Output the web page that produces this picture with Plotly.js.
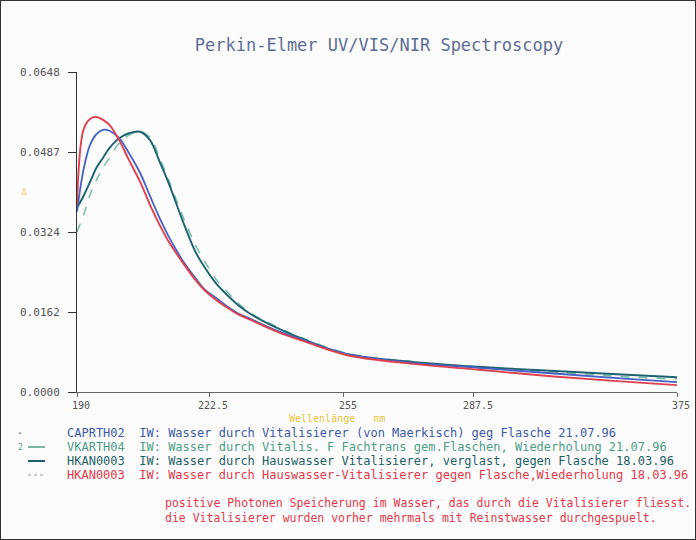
<!DOCTYPE html>
<html>
<head>
<meta charset="utf-8">
<script src="https://cdn.plot.ly/plotly-3.0.1.min.js"></script>
<style>
html,body{margin:0;padding:0;background:#fff;}
#chart{width:694px;height:538px;border:1px solid #333;background:#fcfcfc;}
</style>
</head>
<body>
<div id="chart"></div>
<script>
// Wavelength grid (nm)
var wavelength = [190, 192, 194, 196, 198, 200, 203, 206, 209.5, 212.5, 215.5, 218.5, 222.5, 226.5, 229.5, 233, 237, 240, 243.5, 251, 259, 273, 293.5, 314, 336, 356.5, 375];

// Absorbance series
var capRTH02 = [0.0365, 0.0450, 0.0500, 0.0522, 0.0531, 0.0529, 0.0514, 0.0484, 0.0443, 0.0397, 0.0352, 0.0312, 0.0267, 0.0231, 0.0207, 0.0190, 0.0170, 0.0158, 0.0148, 0.0126, 0.0107, 0.0077, 0.0059, 0.0049, 0.0038, 0.0028, 0.0020];
var vkaRTH04 = [0.0324, 0.0358, 0.0399, 0.0429, 0.0454, 0.0474, 0.0504, 0.0520, 0.0527, 0.0516, 0.0474, 0.0425, 0.0358, 0.0298, 0.0263, 0.0227, 0.0198, 0.0178, 0.0160, 0.0134, 0.0111, 0.0079, 0.0061, 0.0049, 0.0041, 0.0032, 0.0026];
var hkan0003a = [0.0373, 0.0397, 0.0425, 0.0454, 0.0474, 0.0494, 0.0514, 0.0524, 0.0527, 0.0510, 0.0466, 0.0419, 0.0348, 0.0284, 0.0251, 0.0219, 0.0192, 0.0174, 0.0158, 0.0132, 0.0109, 0.0077, 0.0061, 0.0051, 0.0043, 0.0036, 0.0030];
var hkan0003b = [0.0379, 0.0531, 0.0553, 0.0557, 0.0551, 0.0541, 0.0510, 0.0470, 0.0425, 0.0379, 0.0338, 0.0302, 0.0263, 0.0227, 0.0205, 0.0186, 0.0168, 0.0156, 0.0146, 0.0124, 0.0105, 0.0075, 0.0057, 0.0045, 0.0032, 0.0022, 0.0014];

// Axis ticks
var xTickVals = [190, 230.7, 272.3, 312.4, 375];
var xTickText = ["190", "222.5", "255", "287.5", "375"];
var yTickVals = [0, 0.0162, 0.0324, 0.0486, 0.0648];
var yTickText = ["0.0000", "0.0162", "0.0324", "0.0487", "0.0648"];

// Legend / annotation texts
var legendLines = [
  "CAPRTH02  IW: Wasser durch Vitalisierer (von Maerkisch) geg Flasche 21.07.96",
  "VKARTH04  IW: Wasser durch Vitalis. F Fachtrans gem.Flaschen, Wiederholung 21.07.96",
  "HKAN0003  IW: Wasser durch Hauswasser Vitalisierer, verglast, gegen Flasche 18.03.96",
  "HKAN0003  IW: Wasser durch Hauswasser-Vitalisierer gegen Flasche,Wiederholung 18.03.96"
];
var legendColors = ["#3d5aa6", "#4f9c86", "#1f5f66", "#e23a4a"];
var noteLines = [
  "positive Photonen Speicherung im Wasser, das durch die Vitalisierer fliesst.",
  "die Vitalisierer wurden vorher mehrmals mit Reinstwasser durchgespuelt."
];

var mono = "DejaVu Sans Mono, Liberation Mono, monospace";

var traces = [
  {x: wavelength, y: vkaRTH04, mode: "lines", line: {color: "#74bca6", width: 1.5, dash: "dash", shape: "spline"}},
  {x: wavelength, y: hkan0003a, mode: "lines", line: {color: "#1e6470", width: 1.9, shape: "spline"}},
  {x: wavelength, y: capRTH02, mode: "lines", line: {color: "#4562c2", width: 1.8, shape: "spline"}},
  {x: wavelength, y: hkan0003b, mode: "lines", line: {color: "#e0404e", width: 1.9, shape: "spline"}}
];

// paper coords helpers (plot area: page x 77..677, y 72..392)
function px(x){ return (x - 77) / 600; }
function py(y){ return (392 - y) / 320; }

var annotations = [];
var legendY = [433, 447, 461, 475];
legendLines.forEach(function(t, i){
  annotations.push({xref: "paper", yref: "paper", x: px(65), y: py(legendY[i]), xanchor: "left", yanchor: "middle",
    text: t, showarrow: false, font: {family: mono, size: 12, color: legendColors[i]}});
});
var noteY = [503, 518];
noteLines.forEach(function(t, i){
  annotations.push({xref: "paper", yref: "paper", x: px(163), y: py(noteY[i]), xanchor: "left", yanchor: "middle",
    text: t, showarrow: false, font: {family: mono, size: 11.5, color: "#e23a4a"}});
});
annotations.push({xref: "paper", yref: "paper", x: px(337), y: py(418), xanchor: "center", yanchor: "middle",
  text: "Wellenlänge   nm", showarrow: false, font: {family: mono, size: 10, color: "#e8c23a"}});
annotations.push({xref: "paper", yref: "paper", x: px(24), y: py(192), xanchor: "center", yanchor: "middle",
  text: "A", showarrow: false, font: {family: mono, size: 10, color: "#e8d88a"}});
annotations.push({xref: "paper", yref: "paper", x: px(20), y: py(433), xanchor: "center", yanchor: "middle",
  text: "·", showarrow: false, font: {family: mono, size: 10, color: "#3d5aa6"}});
annotations.push({xref: "paper", yref: "paper", x: px(20), y: py(447), xanchor: "center", yanchor: "middle",
  text: "2", showarrow: false, font: {family: mono, size: 8, color: "#4f9c86"}});

var shapes = [
  {type: "line", xref: "paper", yref: "paper", x0: px(28), x1: px(45), y0: py(447), y1: py(447), line: {color: "#4f9c86", width: 1.5}},
  {type: "line", xref: "paper", yref: "paper", x0: px(28), x1: px(45), y0: py(461), y1: py(461), line: {color: "#1f5f66", width: 2}},
  {type: "line", xref: "paper", yref: "paper", x0: px(28), x1: px(45), y0: py(475), y1: py(475), line: {color: "#9a9aa8", width: 1, dash: "dot"}}
];

var layout = {
  width: 694, height: 538,
  margin: {l: 76, r: 18, t: 71, b: 147},
  paper_bgcolor: "#fcfcfc",
  plot_bgcolor: "#fcfcfc",
  showlegend: false,
  title: {text: "Perkin-Elmer UV/VIS/NIR Spectroscopy", x: 378/694, xanchor: "center", y: 1 - 44/538, yanchor: "middle",
    font: {family: mono, size: 17, color: "#5f6d96"}},
  xaxis: {range: [190, 375], tickvals: xTickVals, ticktext: xTickText, showgrid: false, zeroline: false,
    showline: true, linecolor: "#666", linewidth: 1, ticks: "outside", ticklen: 4, tickcolor: "#666",
    tickfont: {family: mono, size: 10, color: "#555"}, ticklabelshift: 4},
  yaxis: {range: [0, 0.0648], tickvals: yTickVals, ticktext: yTickText, showgrid: false, zeroline: false,
    showline: true, linecolor: "#333", linewidth: 1, ticks: "outside", ticklen: 8, tickcolor: "#333",
    ticklabelstandoff: 6,
    tickfont: {family: mono, size: 11, color: "#555"}},
  annotations: annotations,
  shapes: shapes
};

Plotly.newPlot("chart", traces, layout, {displayModeBar: false, staticPlot: true});
</script>
</body>
</html>
